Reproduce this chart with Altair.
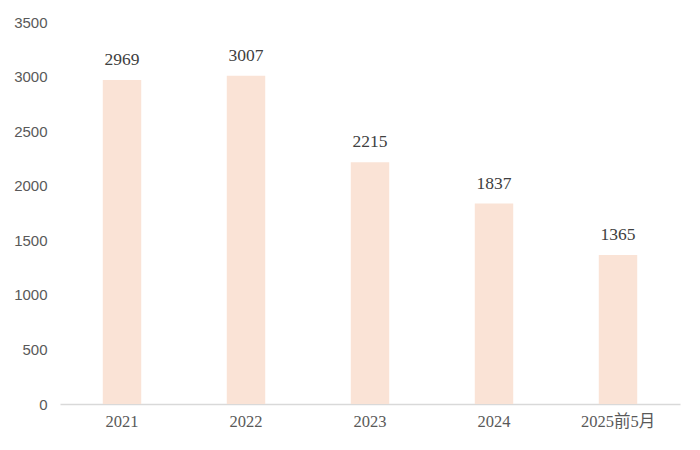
import altair as alt
import pandas as pd

categories = ["2021", "2022", "2023", "2024", "2025前5月"]
values = [2969, 3007, 2215, 1837, 1365]

df = pd.DataFrame({"cat": categories, "val": values})

base = alt.Chart(df).encode(
    x=alt.X("cat:N", sort=categories, title=None,
            scale=alt.Scale(paddingInner=0.69, paddingOuter=0.345),
            axis=alt.Axis(labelAngle=0, ticks=False, domainColor="#d9d9d9", domainWidth=1.5,
                          labelFont="Liberation Serif, Noto Sans CJK SC", labelFontSize=16.5,
                          labelColor="#595959", labelPadding=9)),
    y=alt.Y("val:Q", title=None,
            scale=alt.Scale(domain=[0, 3500]),
            axis=alt.Axis(values=[0, 500, 1000, 1500, 2000, 2500, 3000, 3500], grid=False,
                          format="d",
                          domain=False, ticks=False, labelFont="Liberation Sans",
                          labelFontSize=15, labelColor="#595959", labelPadding=13)),
)

bars = base.mark_bar(color="#FAE3D6")
text = base.mark_text(dy=-11, baseline="bottom", font="Liberation Serif", fontSize=17.5,
                      color="#404040").encode(text=alt.Text("val:Q", format="d"))

chart = (bars + text).properties(
    width=620, height=382,
    background="white",
    autosize=alt.AutoSizeParams(type="none"),
    padding={"left": 52, "top": 14, "right": 12, "bottom": 40},
).configure_view(strokeWidth=0, stroke=None)

chart.save("out.html", embed_options={"renderer": "svg", "actions": False})
